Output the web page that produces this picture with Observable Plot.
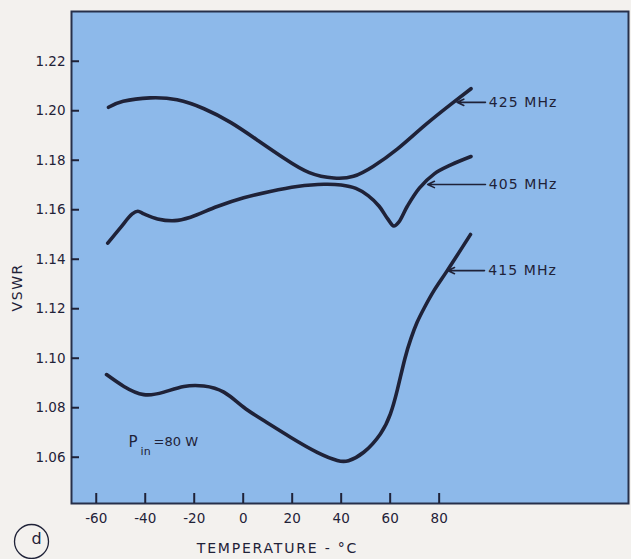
<!DOCTYPE html>
<html>
<head>
<meta charset="utf-8">
<script src="https://cdn.jsdelivr.net/npm/d3@7"></script>
<script src="https://cdn.jsdelivr.net/npm/@observablehq/plot@0.6"></script>
<style>
  html, body { margin: 0; padding: 0; background: #f3f1ee; }
  #chart svg { display: block; }
</style>
</head>
<body>
<div id="chart"></div>
<script>
// ---- Data ----
const xTicks = [-60, -40, -20, 0, 20, 40, 60, 80];
const yTicks = [1.06, 1.08, 1.10, 1.12, 1.14, 1.16, 1.18, 1.20, 1.22];

const temp425 = [-55, -49, -38, -27, -16, -5, 6, 17, 27, 37, 45, 53, 63, 74, 85, 93];
const vswr425 = [1.2014, 1.2038, 1.2052, 1.2044, 1.2008, 1.1952, 1.1880, 1.1806, 1.1750, 1.1728, 1.1735, 1.1775, 1.1846, 1.1940, 1.2028, 1.2089];

const temp405 = [-55.3, -50, -45.3, -43, -40.6, -35, -28, -21.5, -10.6, 0.2, 11, 22, 33, 40, 46, 51, 55.5, 59, 61.5, 63.5, 67, 72, 78, 85, 93];
const vswr405 = [1.1465, 1.1529, 1.1583, 1.1594, 1.1583, 1.1563, 1.1556, 1.1570, 1.1613, 1.1648, 1.1674, 1.1694, 1.1703, 1.1700, 1.1686, 1.1657, 1.1614, 1.1563, 1.1534, 1.1550, 1.1614, 1.1688, 1.1745, 1.1782, 1.1815];

const temp415 = [-55.8, -48.7, -40.6, -32.4, -24.2, -16.1, -7.9, 0.2, 8.4, 19.3, 30.2, 38.4, 43, 49.2, 56, 60.1, 63, 66, 68.5, 71, 74, 78, 83.3, 92.8];
const vswr415 = [1.0934, 1.0886, 1.0853, 1.0863, 1.0886, 1.0888, 1.0863, 1.0802, 1.0748, 1.0681, 1.0620, 1.0587, 1.0586, 1.0620, 1.0694, 1.0775, 1.0875, 1.0998, 1.1080, 1.1145, 1.1205, 1.1275, 1.1354, 1.1500];

const seriesNames = ["425 MHz", "405 MHz", "415 MHz"];
// label arrows: tip on the curve, tail at the label
const arrowTipX = [87.3, 75.3, 83.5];
const arrowTipY = [1.2034, 1.1702, 1.1354];
const arrowTailX = [98.9, 98.9, 98.5];
const labelX = [100.2, 100.2, 100.0];

const xTitle = "TEMPERATURE - °C";
const xTitlePos = 14;
const yTitle = "VSWR";
const panelTag = "d";
const noteMain = "P";
const noteSub = "in";
const noteRest = "=80 W";
const noteX = -46.8;
const noteY = 1.0661;

// ---- Build tables ----
const mk = (name, ts, vs) => ts.map((t, i) => ({series: name, t, v: vs[i]}));
const d425 = mk(seriesNames[0], temp425, vswr425);
const d405 = mk(seriesNames[1], temp405, vswr405);
const d415 = mk(seriesNames[2], temp415, vswr415);
const labels = seriesNames.map((name, i) => ({
  name, x1: arrowTailX[i], x2: arrowTipX[i], y: arrowTipY[i], lx: labelX[i]
}));

const ink = "#1f2238";
const font = "DejaVu Sans";
const lineStyle = {x: "t", y: "v", stroke: ink, strokeWidth: 3.6, strokeLinecap: "round", strokeLinejoin: "round"};

const chart = Plot.plot({
  width: 631,
  height: 559,
  marginLeft: 71,
  marginTop: 11,
  marginRight: 3,
  marginBottom: 56,
  x: {domain: [-70.1, 157.3]},
  y: {domain: [1.0413, 1.2401]},
  style: {background: "transparent", fontFamily: font, fontSize: "13px", color: ink},
  marks: [
    Plot.frame({fill: "#8db9ea", stroke: "none"}),
    Plot.line(d425, {...lineStyle, curve: "natural"}),
    Plot.line(d405, {...lineStyle, curve: "catmull-rom"}),
    Plot.line(d415, {...lineStyle, curve: "natural"}),
    Plot.arrow(labels, {x1: "x1", y1: "y", x2: "x2", y2: "y", stroke: ink, strokeWidth: 1.6, headLength: 7, headAngle: 50}),
    Plot.text(labels, {x: "lx", y: "y", text: "name", textAnchor: "start", fill: ink, fontSize: 14}),
    Plot.text([noteMain], {x: noteX, y: noteY, text: d => d, textAnchor: "start", fill: ink, fontSize: 15}),
    Plot.text([noteSub], {x: noteX, y: noteY, text: d => d, textAnchor: "start", fill: ink, fontSize: 11, dx: 12, dy: 9}),
    Plot.text([noteRest], {x: noteX, y: noteY, text: d => d, textAnchor: "start", fill: ink, fontSize: 13, dx: 25}),
    Plot.frame({stroke: "#27304a", strokeWidth: 2}),
    Plot.axisX({ticks: xTicks, tickSize: -10, tickPadding: 20, strokeWidth: 2, stroke: ink, fill: ink, label: null, fontSize: 13.5, tickFormat: d => String(d)}),
    Plot.axisY({ticks: yTicks, tickSize: -8, tickPadding: 14, strokeWidth: 2, stroke: ink, fill: ink, label: null, fontSize: 13.5, tickFormat: d3.format(".2f")}),
    Plot.text([xTitle], {x: xTitlePos, frameAnchor: "bottom", dy: 49, text: d => d, fill: ink, fontSize: 14}),
    Plot.text([yTitle], {frameAnchor: "left", dx: -54, dy: 54, rotate: -90, text: d => d, fill: ink, fontSize: 14}),
    Plot.dot([panelTag], {frameAnchor: "bottom-left", dx: -40, dy: 38, r: 17, stroke: ink, strokeWidth: 1.3, fill: "none"}),
    Plot.text([panelTag], {frameAnchor: "bottom-left", dx: -40, dy: 40, text: d => d, fill: ink, fontSize: 16})
  ]
});
document.getElementById("chart").append(chart);

// letter spacing of the hand-lettered labels
const spacing = new Map([
  ...seriesNames.map(n => [n, "1.1px"]),
  [xTitle, "1.8px"],
  [yTitle, "1.6px"]
]);
d3.select(chart).selectAll("text").each(function () {
  const s = spacing.get(this.textContent);
  if (s) this.style.letterSpacing = s;
});
</script>
</body>
</html>
